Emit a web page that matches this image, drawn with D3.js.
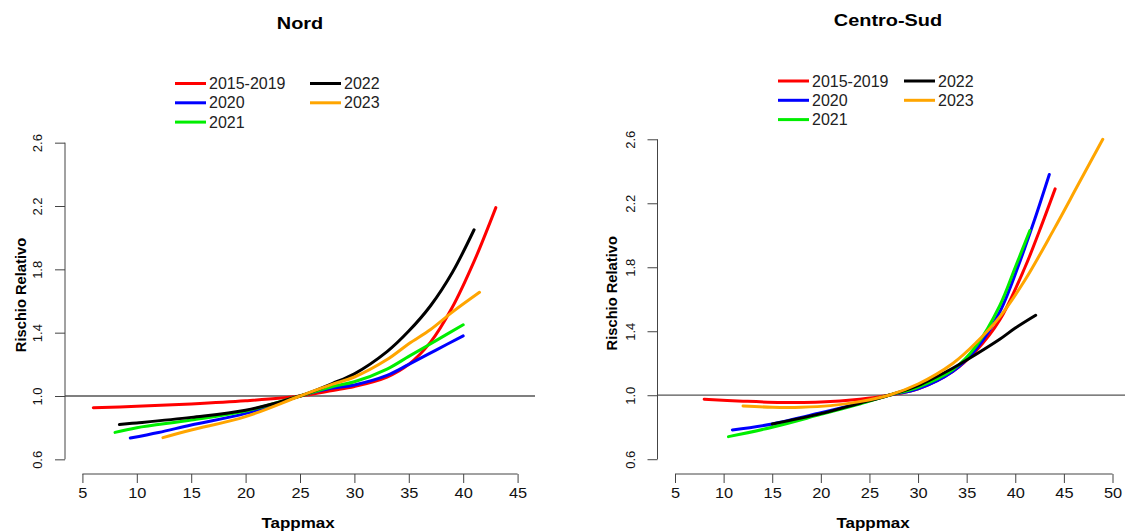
<!DOCTYPE html>
<html>
<head>
<meta charset="utf-8">
<script src="https://cdn.jsdelivr.net/npm/d3@7"></script>
<style>
  body { margin: 0; background: #fff; }
  svg { display: block; font-family: "Liberation Sans", Arial, sans-serif; }
</style>
</head>
<body>
<svg id="chart" width="1125" height="531"></svg>
<script>
// Series labels and colours (shared by both panels)
const seriesNames = ['2015-2019', '2020', '2021', '2022', '2023']
const seriesColors = ['#ff0000', '#0000ff', '#00ee00', '#000000', '#ffa500']

// Nord: [Tappmax, Rischio Relativo]
const nord2015_2019 = [[6, 0.926], [10, 0.935], [15, 0.95], [20, 0.97], [25, 1.0], [28, 1.035], [30, 1.06], [33, 1.12], [35, 1.2], [37, 1.34], [39, 1.56], [41, 1.85], [43, 2.19]]
const nord2020 = [[9.4, 0.735], [12, 0.77], [15, 0.817], [20, 0.89], [25, 1.0], [28, 1.05], [30, 1.07], [33, 1.13], [35, 1.2], [37.5, 1.29], [40, 1.38]]
const nord2021 = [[8, 0.77], [10, 0.8], [15, 0.848], [20, 0.905], [25, 1.0], [28, 1.06], [30, 1.09], [33, 1.17], [35, 1.25], [37.5, 1.35], [40, 1.45]]
const nord2022 = [[8.4, 0.82], [10, 0.83], [15, 0.865], [20, 0.91], [25, 1.0], [28, 1.08], [30, 1.14], [33, 1.28], [35, 1.41], [37, 1.57], [39, 1.78], [41, 2.05]]
const nord2023 = [[12.4, 0.737], [15, 0.785], [20, 0.87], [25, 1.0], [28, 1.075], [30, 1.12], [33, 1.23], [35, 1.33], [37, 1.42], [39, 1.53], [41.5, 1.655]]

// Centro-Sud
const sud2015_2019 = [[8, 0.975], [12, 0.963], [16, 0.955], [20, 0.957], [24, 0.975], [27, 1.0], [30, 1.04], [33.6, 1.15], [36, 1.28], [38.4, 1.47], [41, 1.8], [42.5, 2.03], [44.1, 2.29]]
const sud2020 = [[10.9, 0.783], [15, 0.82], [20, 0.89], [24, 0.95], [27, 1.0], [30, 1.04], [33.6, 1.15], [36, 1.29], [38.4, 1.52], [40.5, 1.84], [42, 2.1], [43.5, 2.38]]
const sud2021 = [[10.5, 0.741], [15, 0.8], [20, 0.88], [24, 0.945], [27, 1.0], [30, 1.05], [33.6, 1.16], [36, 1.31], [38.4, 1.56], [40, 1.8], [41.5, 2.03]]
const sud2022 = [[15, 0.82], [20, 0.885], [24, 0.95], [27, 1.0], [30, 1.06], [33.6, 1.17], [35, 1.22], [38.4, 1.35], [40, 1.42], [42.1, 1.5]]
const sud2023 = [[12, 0.933], [15, 0.925], [18, 0.925], [21, 0.935], [24, 0.96], [27, 1.0], [30, 1.07], [33.6, 1.2], [36, 1.33], [38.4, 1.49], [41, 1.72], [44, 2.04], [46.5, 2.32], [49, 2.6]]

// Axis ticks
const nordXTicks = [5, 10, 15, 20, 25, 30, 35, 40, 45]
const sudXTicks = [5, 10, 15, 20, 25, 30, 35, 40, 45, 50]
const yTicks = [0.6, 1.0, 1.4, 1.8, 2.2, 2.6]

const panels = [
  {
    title: 'Nord', series: [nord2015_2019, nord2020, nord2021, nord2022, nord2023],
    xTicks: nordXTicks, xDomain: [3.4, 46.6], yDomain: [0.52, 2.68],
    left: 65, right: 535, top: 130, bottom: 472,
    titleX: 300, titleY: 29, legendX: 175, legendY: 83.5, legendCol: 135, xlabelX: 298, ylabelX: 21
  },
  {
    title: 'Centro-Sud', series: [sud2015_2019, sud2020, sud2021, sud2022, sud2023],
    xTicks: sudXTicks, xDomain: [3.2, 51.8], yDomain: [0.52, 2.68],
    left: 657.5, right: 1130, top: 126.5, bottom: 472,
    titleX: 888, titleY: 26, legendX: 778, legendY: 81, legendCol: 126, xlabelX: 873, ylabelX: 612
  }
]

const svg = d3.select('#chart')
const sx = 1.17 // horizontal stretch of the original raster text

panels.forEach(p => {
  const x = d3.scaleLinear().domain(p.xDomain).range([p.left, p.right])
  const y = d3.scaleLinear().domain(p.yDomain).range([p.bottom, p.top])
  const g = svg.append('g')

  // Title
  g.append('g')
    .attr('transform', `translate(${p.titleX},${p.titleY}) scale(${sx},1)`)
    .append('text')
    .attr('text-anchor', 'middle')
    .attr('font-weight', 'bold')
    .attr('font-size', 17)
    .text(p.title)

  // Reference line at RR = 1
  g.append('line')
    .attr('x1', p.left).attr('x2', p.right)
    .attr('y1', y(1)).attr('y2', y(1))
    .attr('stroke', '#555').attr('stroke-width', 1.3)

  // Curves
  const line = d3.line()
    .x(d => x(d[0]))
    .y(d => y(d[1]))
    .curve(d3.curveCatmullRom.alpha(0.5))
  p.series.forEach((s, i) => {
    g.append('path')
      .datum(s)
      .attr('d', line)
      .attr('fill', 'none')
      .attr('stroke', seriesColors[i])
      .attr('stroke-width', 3)
      .attr('stroke-linecap', 'round')
  })

  // X axis
  const xa = g.append('g').attr('transform', `translate(0,${p.bottom + 2})`)
  xa.call(d3.axisBottom(x).tickValues(p.xTicks).tickSize(9).tickSizeOuter(0).tickFormat(d3.format('d')))
  xa.select('.domain').attr('d', `M${x(p.xTicks[0])},0H${x(p.xTicks[p.xTicks.length - 1])}`).attr('stroke', '#444')
  xa.selectAll('.tick line').attr('stroke', '#444')
  xa.selectAll('.tick text').remove()
  xa.selectAll('.tick').append('g')
    .attr('transform', `translate(0,24) scale(${sx},1)`)
    .append('text')
    .attr('text-anchor', 'middle')
    .attr('font-size', 14)
    .attr('fill', '#111')
    .text(d => d)

  // Y axis
  const ya = g.append('g').attr('transform', `translate(${p.left},0)`)
  ya.call(d3.axisLeft(y).tickValues(yTicks).tickSize(10).tickSizeOuter(0).tickFormat(d3.format('.1f')))
  ya.select('.domain').attr('d', `M0,${y(yTicks[0])}V${y(yTicks[yTicks.length - 1])}`).attr('stroke', '#444')
  ya.selectAll('.tick line').attr('stroke', '#444')
  ya.selectAll('.tick text')
    .attr('x', null).attr('dy', null)
    .attr('transform', 'translate(-23,0) rotate(-90)')
    .attr('text-anchor', 'middle')
    .attr('font-size', 13)
    .attr('fill', '#111')
  ya.attr('font-family', null)
  xa.attr('font-family', null)

  // Axis titles
  g.append('g')
    .attr('transform', `translate(${p.xlabelX},527.5) scale(${sx},1)`)
    .append('text')
    .attr('text-anchor', 'middle')
    .attr('font-weight', 'bold')
    .attr('font-size', 14.5)
    .text('Tappmax')
  g.append('text')
    .attr('transform', `translate(${p.ylabelX + 5},${(p.top + p.bottom) / 2 - 6}) rotate(-90)`)
    .attr('text-anchor', 'middle')
    .attr('font-weight', 'bold')
    .attr('font-size', 14.7)
    .text('Rischio Relativo')

  // Legend (two columns, filled column-wise)
  seriesNames.forEach((name, i) => {
    const col = Math.floor(i / 3), row = i % 3
    const lx = p.legendX + col * p.legendCol
    const ly = p.legendY + row * 19.3
    g.append('line')
      .attr('x1', lx).attr('x2', lx + 31)
      .attr('y1', ly).attr('y2', ly)
      .attr('stroke', seriesColors[i]).attr('stroke-width', 3)
    g.append('text')
      .attr('x', lx + 34).attr('y', ly + 5.5)
      .attr('font-size', 16)
      .attr('fill', '#222')
      .text(name)
  })
})
</script>
</body>
</html>
